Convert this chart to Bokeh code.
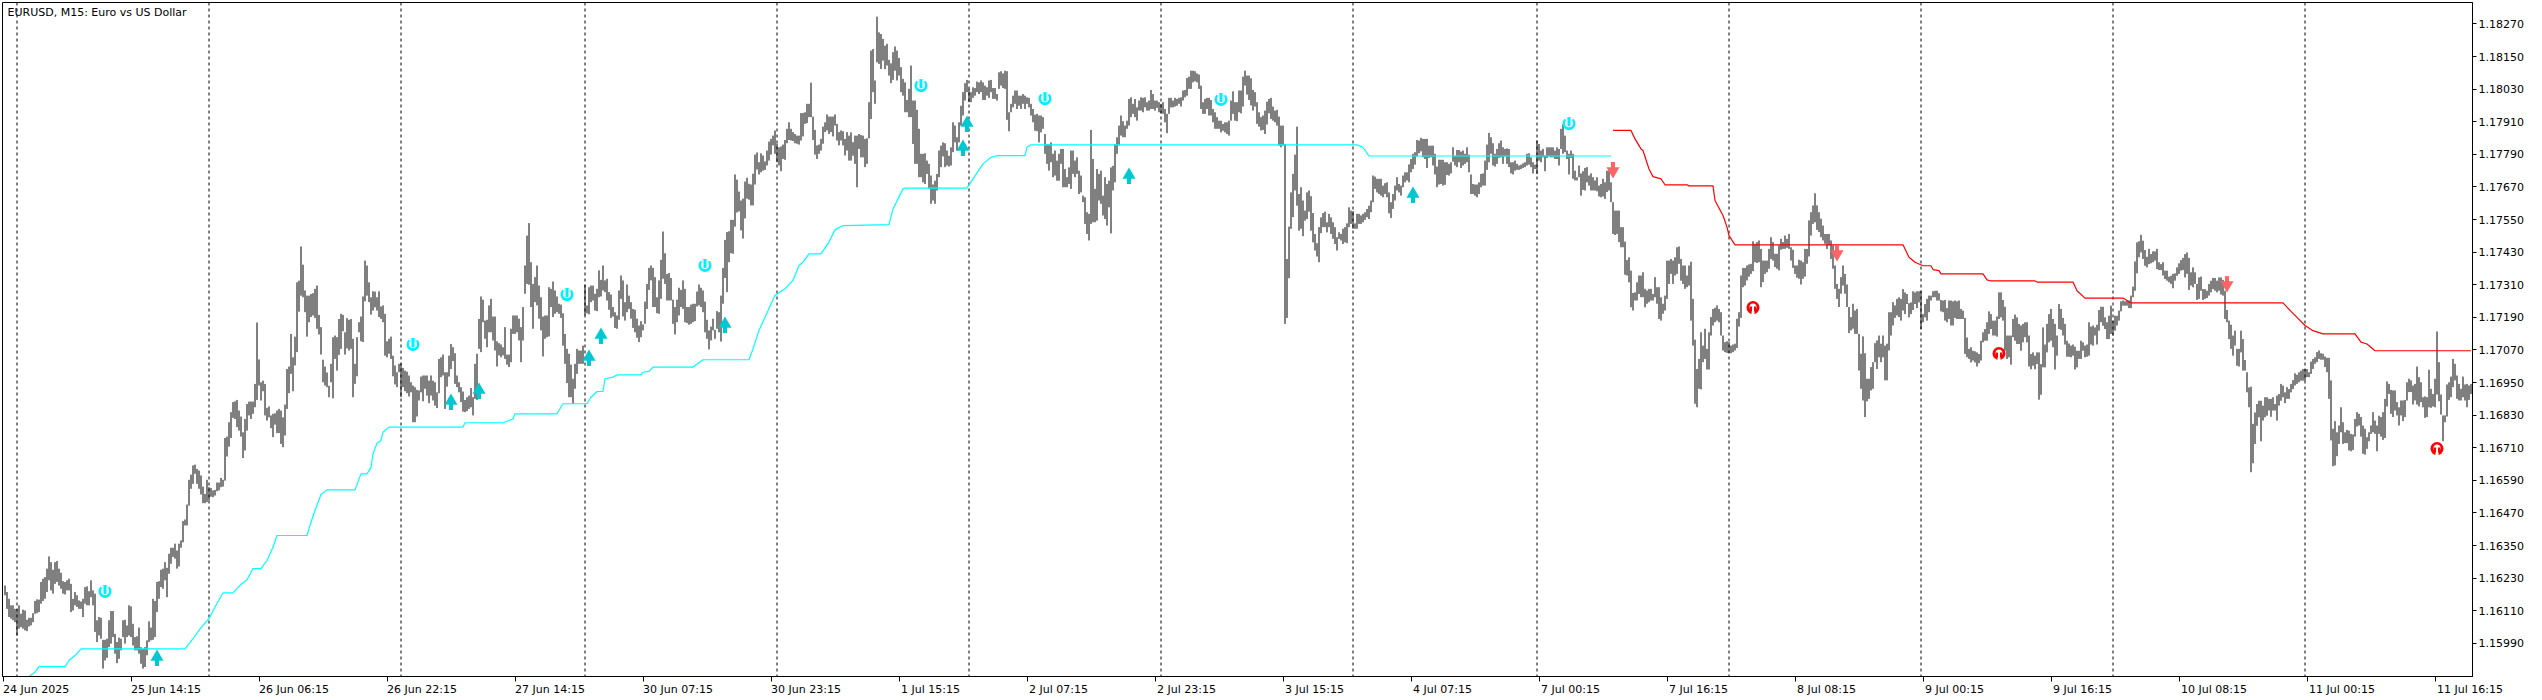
from bokeh.plotting import figure
from bokeh.models import FixedTicker, Label, NumeralTickFormatter, Span
from bokeh.embed import file_html
from bokeh.resources import INLINE

# Prices are in points above 1.15000; each list alternates bar high, bar low.
hl_24jun = [1203,1167,1179,1117,1154,1087,1130,1081,1130,1075,1117,1068]
hl_25jun = [1117,1019,1130,1044,1099,1050,1114,1044,1111,1038,1077,1035,1084,1052,1084,1056,1101,1068,1146,1099,1152,1101,1151,1105,1216,1136,1228,1146,1234,1154,1265,1179,1310,1222,1289,1185,1261,1173,1289,1209,1293,1216,1265,1203,1250,1191,1219,1173,1216,1170,1222,1185,1228,1185,1209,1105,1154,1111,1179,1130,1167,1124,1148,1117,1144,1117,1154,1087,1197,1136,1200,1130,1182,1130,1222,1160,1185,1130,1173,1032,1075,995,1087,1019,1084,1007,1003,897,1003,927,1007,937,1075,976,1109,989,1109,1013,1025,952,995,917,1011,933,1007,964,1075,1013,1077,989,1056,1013,1130,1019,1126,1013,1062,982,1013,964,1016,964,1048,952,976,915,970,897,976,903,1001,946,1071,995,1048,1001,1154,1003,1146,1013,1216,1105,1219,1154,1261,1197,1265,1191,1289,1222,1268,1160,1320,1246,1342,1283,1342,1308,1357,1302,1332,1265,1357,1273,1369,1342,1440,1362,1446,1424,1501,1424,1592,1497,1611,1559,1645,1577,1648,1614,1632,1577,1626,1559,1608,1538,1567,1506,1540,1506,1592,1510]
hl_26jun = [1565,1516,1562,1530,1553,1528,1555,1534,1582,1550,1582,1553,1599,1565,1592,1567,1746,1589,1751,1678,1804,1714,1841,1746,1878,1820,1881,1816,1886,1786,1847,1773,1825,1751,1767,1672,1816,1700,1871,1773,1880,1829,1880,1816,1880,1835,1945,1859,2171,1886,2035,1939,1951,1884,1957,1918,1945,1829,1857,1810,1862,1822,1829,1782,1835,1749,1837,1795,1847,1764,1853,1764,1847,1724,1822,1712,1869,1755,2000,1853,2009,1911,2129,1982,2043,1918,2119,2013,2319,2062,2325,2211,2451,2270,2384,2264,2289,2209,2270,2119,2270,2172,2276,2191,2279,2197,2295,2188,2307,2148,2199,2127,2154,2053,2034,1951,2009,1939,1987,1933,1938,1896,2019,1951,2117,1892,2123,2037,2117,1994,2184,2052,2203,2074,2199,2139,2135,2053,2187,2076,2181,2068,2184,2074,2111,1896,2019,1945,2117,1973,2172,2135,2193,2102,2267,2099,2399,2249,2381,2270,2319,2246,2264,2200,2286,2215,2285,2227,2264,2215,2286,2191,2230,2184,2234,2172,2203,2049,2102,2043,2111,2056,2119,2037,2049,1973,2013,1943,1988,1933,2019,1988]
hl_27jun = [2021,1896,2004,1933,1994,1918,1990,1911,1976,1899,1951,1914,1939,1804,1933,1804,1923,1825,1921,1884,1972,1914,1976,1881,1976,1927,1976,1902,1957,1874,1976,1902,1957,1884,1951,1865,1914,1856,2037,1911,2043,1970,2053,1976,1988,1853,1988,1935,2049,1972,2092,2000,2080,2029,2058,1945,1976,1933,1951,1914,1933,1878,1917,1843,1886,1841,1896,1845,1902,1853,1930,1859,1896,1829,2019,1890,2056,1886,2184,2074,2267,2062,2255,2172,2178,2111,2181,2080,2234,2135,2258,2135,2193,2105,2193,2068,2102,2009,2095,2050,2090,2043,2080,2050,2154,2037,2053,2016,2053,2007,2148,2025,2197,2129,2197,2129,2197,2135,2185,2105,2154,2025,2228,2105,2381,2277,2491,2313,2537,2310,2393,2228,2313,2148,2338,2246,2381,2234,2307,2185,2264,2142,2193,2046,2197,2111,2197,2117,2301,2120,2295,2228,2322,2191,2289,2203,2267,2209,2240,2203,2237,2188,2205,2086,2129,2019,2074,1948,2056,1896,2016,1896,1964,1872,2019,1927,2074,1982,2068,2019,2068,2019,2086,2019]
hl_30jun = [2310,2197,2234,2205,2301,2201,2307,2246,2307,2252,2277,2215,2295,2213,2363,2264,2328,2267,2381,2289,2326,2283,2332,2252,2283,2218,2274,2188,2228,2193,2209,2151,2197,2148,2289,2181,2344,2258,2326,2193,2246,2178,2311,2209,2270,2221,2246,2185,2221,2151,2218,2135,2185,2115,2160,2099,2176,2117,2164,2142,2248,2166,2313,2221,2372,2291,2381,2326,2372,2228,2338,2228,2264,2205,2326,2203,2402,2258,2506,2332,2426,2313,2350,2252,2353,2252,2335,2252,2255,2166,2228,2127,2255,2172,2299,2197,2291,2228,2326,2221,2295,2172,2228,2169,2228,2163,2237,2166,2240,2172,2240,2176,2285,2230,2311,2234,2299,2228,2289,2209,2248,2135,2181,2111,2142,2072,2156,2105,2185,2142,2144,2111,2213,2148,2209,2135,2270,2101,2372,2240,2475,2335,2504,2283,2507,2393,2549,2426,2549,2424,2716,2524,2697,2576,2653,2580,2620,2510,2627,2480,2690,2554,2704,2627,2682,2623,2679,2602,2719,2602,2789,2679,2797,2734,2761,2716,2794,2724,2786,2730,2764,2733,2804,2749,2837,2767,2847,2789,2859,2823,2878,2792]
hl_01jul = [2829,2761,2816,2749,2819,2728,2826,2773,2843,2770,2884,2831,2908,2843,2884,2841,2872,2839,2865,2831,2859,2829,2859,2826,2942,2841,2942,2856,2945,2902,2976,2905,2976,2927,3054,2927,2929,2843,2880,2789,2823,2773,2826,2792,2847,2804,2892,2829,2908,2872,2937,2878,2929,2865,2929,2872,2929,2856,2937,2896,2902,2841,2872,2823,2878,2841,2875,2823,2847,2786,2872,2804,2859,2767,2871,2767,2835,2785,2859,2755,2859,2669,2865,2810,2861,2779,2859,2779,2847,2743,2849,2755,2982,2849,3172,2920,3178,3019,3062,2976,3297,3129,3239,3123,3233,3104,3215,3135,3190,3104,3197,3117,3138,3080,3125,3052,3166,3064,3187,3098,3172,3062,3145,3080,3111,3019,3068,3006,3055,2945,2990,2945,3031,2927,3117,2927,2988,2828,2988,2755,2954,2755,2884,2706,2792,2706,2792,2687,2794,2681,2767,2718,2755,2663,2712,2608,2679,2620,2693,2608,2718,2657,2804,2706,2822,2743,2834,2782,2831,2743,2804,2749,2785,2745,2816,2749,2908,2798,2896,2834,2853,2804,2908,2834,2969,2896,3019,2933,3052,2988,3064,3019]
hl_02jul = [3031,2982,3019,2982,3037,2998,3034,3006,3058,3019,3055,3012,3062,3019,3055,2990,3043,2990,3037,3006,3062,2998,3064,3019,3034,2994,3034,2994,3012,2988,3092,3031,3096,3043,3088,3034,3098,3031,3096,2917,2945,2875,2976,2945,3006,2963,3025,2976,3025,2957,3006,2969,3006,2957,3012,2976,3006,2957,3000,2976,2998,2963,2976,2933,2957,2908,2936,2877,2939,2875,2933,2834,2933,2871,2927,2884,2865,2792,2828,2755,2828,2730,2834,2761,2792,2706,2804,2712,2767,2693,2792,2693,2810,2755,2810,2669,2736,2669,2706,2669,2742,2681,2804,2663,2804,2718,2767,2706,2779,2718,2730,2644,2712,2650,2638,2614,2632,2534,2577,2497,2571,2473,2880,2534,2773,2540,2663,2540,2736,2546,2718,2620,2730,2608,2638,2565,2706,2552,2681,2528,2693,2595,2742,2499,2748,2657,2828,2687,2853,2792,2896,2822,2933,2859,2912,2853,2896,2853,2914,2884,2994,2896,3000,2927,2976,2939,2994,2927,2963,2914,2988,2951,3000,2951,2998,2945,3000,2963,2982,2951,2988,2951,3027,2957,3012,2957,2988,2951,2988,2961,2982,2945]
hl_03jul = [2976,2941,2982,2939,2957,2908,2939,2868,2998,2939,2998,2963,2988,2963,2998,2966,2994,2969,2998,2976,3000,2966,3025,2988,3027,3000,3071,3006,3076,3031,3098,3031,3098,3055,3096,3059,3088,3055,3084,3031,3043,2957,2982,2939,2994,2939,2998,2957,2998,2933,2990,2933,2957,2908,2945,2884,2927,2884,2914,2884,2914,2871,2902,2877,2908,2871,2908,2865,2914,2859,2988,2914,3022,2939,2982,2914,2982,2912,3025,2945,3025,2941,3076,2966,3098,3043,3080,3010,3080,2990,3070,2970,3027,2951,3019,2966,2982,2902,2945,2892,2927,2878,2933,2880,2951,2865,2984,2900,2994,2941,2998,2920,2966,2914,2951,2908,2954,2896,2929,2822,2896,2816,2896,2822,2828,2166,2405,2188,2524,2334,2650,2516,2718,2559,2789,2657,2892,2601,2644,2509,2669,2516,2620,2489,2583,2546,2650,2552,2657,2579,2636,2509,2574,2466,2497,2436,2463,2414,2522,2393,2558,2500,2574,2522,2579,2522,2540,2503,2571,2522,2558,2497,2540,2479,2522,2460,2485,2436,2503,2479,2497,2473,2516,2460,2522,2466,2536,2463,2595,2522,2583,2534]
hl_04jul = [2581,2516,2536,2516,2571,2516,2571,2534,2565,2534,2571,2540,2577,2549,2589,2559,2601,2552,2620,2577,2712,2614,2708,2663,2700,2650,2700,2644,2700,2638,2675,2632,2684,2644,2687,2632,2650,2573,2614,2556,2644,2589,2675,2620,2706,2657,2681,2650,2675,2638,2712,2669,2724,2687,2724,2694,2753,2687,2773,2724,2792,2736,2798,2752,2843,2782,2841,2794,2851,2801,2847,2779,2847,2773,2847,2740,2822,2777,2822,2779,2822,2749,2792,2716,2745,2669,2770,2679,2770,2681,2770,2675,2761,2678,2761,2714,2755,2712,2761,2720,2816,2763,2785,2749,2806,2743,2806,2761,2800,2740,2804,2749,2792,2755,2816,2761,2789,2724,2716,2644,2681,2644,2679,2638,2679,2632,2687,2644,2718,2669,2720,2675,2767,2675,2826,2733,2869,2761,2853,2792,2831,2749,2792,2745,2810,2755,2831,2777,2841,2779,2816,2755,2810,2782,2812,2755,2810,2743,2761,2720,2761,2716,2767,2730,2755,2733,2749,2733,2752,2736,2757,2740,2761,2743,2792,2749,2794,2752,2779,2743,2761,2720,2752,2736]
hl_07jul = [2841,2718,2828,2767,2804,2761,2810,2779,2786,2728,2816,2777,2816,2782,2816,2779,2816,2779,2804,2773,2816,2773,2810,2749,2884,2810,2900,2792,2859,2798,2804,2773,2792,2716,2804,2777,2792,2700,2730,2694,2706,2694,2749,2706,2720,2638,2728,2659,2740,2657,2743,2687,2712,2675,2720,2657,2706,2657,2694,2657,2706,2654,2675,2635,2681,2632,2700,2635,2687,2626,2730,2651,2730,2657,2687,2614,2614,2497,2583,2493,2583,2497,2583,2467,2522,2448,2522,2448,2469,2347,2401,2344,2411,2319,2362,2227,2280,2215,2282,2252,2319,2252,2344,2276,2344,2264,2356,2264,2295,2227,2289,2240,2295,2246,2295,2252,2276,2252,2338,2264,2301,2240,2301,2184,2264,2178,2240,2203,2270,2215,2399,2258,2399,2313,2405,2350,2399,2313,2411,2344,2448,2350,2451,2387,2405,2325,2381,2313,2381,2295,2344,2301,2381,2307,2395,2178,2258,2086,2108,1872,2000,1859,2037,1927,2135,1925,2086,2025,2148,2037,2074,1998,2135,1998,2191,2123,2221,2160,2225,2172,2234,2178,2221,2172,2209,2123,2123,2068,2099,2062,2102,2059]
hl_08jul = [2099,2059,2086,2058,2090,2062,2093,2068,2185,2077,2209,2156,2344,2188,2372,2301,2372,2307,2381,2326,2385,2340,2387,2350,2470,2360,2461,2393,2467,2390,2473,2393,2442,2301,2399,2320,2399,2350,2399,2356,2442,2369,2485,2405,2467,2399,2424,2375,2424,2369,2455,2363,2479,2439,2467,2442,2491,2442,2479,2446,2497,2442,2448,2399,2439,2372,2381,2350,2381,2336,2402,2332,2399,2311,2393,2332,2442,2340,2442,2387,2547,2414,2577,2491,2602,2534,2647,2540,2602,2512,2577,2504,2553,2485,2528,2473,2497,2461,2497,2442,2497,2455,2473,2405,2455,2369,2381,2295,2313,2258,2295,2228,2338,2277,2381,2307,2350,2277,2311,2228,2228,2132,2191,2142,2240,2148,2215,2129,2221,2129,2129,1994,2056,1927,2120,1884,2058,1823,1964,1881,1964,1890,2007,1921,2025,1927,2095,2025,2105,2000,2123,2043,2093,2025,2123,2043,2086,1958,2093,1958,2209,2068,2209,2123,2246,2160,2234,2188,2258,2197,2264,2191,2258,2178,2294,2215,2282,2202,2276,2239,2242,2190,2245,2202,2286,2217,2282,2239,2286,2224,2286,2245]
hl_09jul = [2288,2147,2202,2172,2239,2190,2258,2178,2270,2209,2270,2252,2286,2264,2288,2264,2288,2252,2279,2252,2254,2212,2252,2209,2254,2178,2224,2172,2252,2184,2252,2160,2249,2160,2252,2188,2249,2184,2252,2184,2221,2184,2215,2184,2188,2055,2116,2043,2074,2037,2080,2024,2067,2031,2065,2024,2061,2009,2055,2021,2104,2031,2135,2098,2147,2104,2172,2104,2212,2129,2202,2147,2178,2123,2178,2123,2193,2119,2282,2184,2282,2190,2254,2178,2229,2067,2123,2037,2123,2043,2123,2016,2184,2117,2200,2104,2190,2092,2166,2092,2160,2067,2166,2098,2172,2117,2172,2098,2123,2009,2055,1999,2061,2012,2049,1999,2061,2018,2061,1887,2018,1905,2153,2006,2090,2006,2166,2061,2202,2098,2221,2104,2184,2080,2166,1998,2123,2049,2239,2147,2221,2144,2188,2123,2166,2090,2104,2045,2094,2045,2086,2043,2090,2049,2082,1998,2067,2006,2067,2037,2104,2037,2098,2067,2086,2043,2090,2045,2172,2049,2156,2090,2160,2086,2153,2123,2163,2090,2217,2141,2229,2172,2229,2159,2190,2147,2172,2110,2196,2110,2233,2129]
hl_10jul = [2178,2123,2196,2141,2196,2160,2215,2178,2249,2212,2252,2233,2249,2233,2252,2233,2252,2224,2270,2224,2303,2264,2396,2288,2466,2352,2470,2411,2494,2429,2472,2405,2438,2380,2413,2374,2442,2386,2423,2389,2433,2393,2433,2399,2442,2368,2393,2364,2386,2364,2393,2344,2362,2331,2362,2325,2340,2319,2343,2313,2350,2297,2352,2325,2374,2343,2389,2350,2401,2362,2409,2364,2423,2337,2429,2350,2409,2291,2356,2307,2374,2301,2356,2313,2313,2254,2337,2258,2340,2288,2294,2254,2294,2258,2288,2261,2313,2270,2325,2282,2335,2294,2335,2288,2325,2282,2337,2288,2337,2274,2328,2270,2288,2184,2217,2172,2178,2110,2163,2074,2123,2049,2141,2086,2074,2012,2074,2009,2141,2061,2110,1994,2033,1994,1988,1914,1932,1859,1935,1620,1798,1653,1840,1724,1871,1791,1883,1822,1883,1734,1865,1810,1896,1822,1896,1828,1890,1847,1890,1824,1896,1847,1871,1847,1902,1810,1908,1865,1945,1883,1939,1896,1914,1874,1933,1890,1926,1890,1945,1914,1959,1926,1984,1939,1979,1945,1988,1951,1994,1957,2000,1957]
hl_11jul = [2000,1957,2000,1970,1988,1970,2027,1982,2037,2000,2043,2019,2062,2025,2068,2037,2058,2034,2056,2034,2046,2007,2041,1988,2041,1890,1958,1737,1780,1642,1808,1645,1767,1679,1792,1724,1859,1767,1804,1724,1767,1727,1776,1727,1773,1700,1761,1697,1759,1702,1816,1751,1841,1788,1835,1792,1823,1751,1792,1688,1780,1685,1749,1706,1767,1734,1792,1761,1841,1767,1810,1761,1792,1697,1828,1761,1823,1751,1841,1739,1890,1746,1954,1862,1945,1908,1923,1835,1921,1823,1921,1847,1878,1829,1859,1792,1884,1829,1884,1808,1886,1823,1951,1884,1964,1915,1958,1915,1939,1869,1945,1884,2009,1869,1970,1862,1951,1878,1896,1859,1899,1820,1896,1823,1997,1859,1927,1857,1908,1862,1964,1859,2138,1906,2025,1881,1906,1832,1829,1734,1829,1804,1943,1825,1951,1886,1972,1896,2037,1933,2019,1958,1976,1890,1945,1884,1927,1884,1972,1896,1943,1884,1945,1859,1939,1886,1945,1908]

day_first_bar = [0, 6, 102, 198, 290, 386, 482, 578, 674, 766, 862, 958, 1054, 1150]
day_bars = [hl_24jun, hl_25jun, hl_26jun, hl_27jun, hl_30jun, hl_01jul, hl_02jul, hl_03jul, hl_04jul, hl_07jul, hl_08jul, hl_09jul, hl_10jul, hl_11jul]
separator_bars = day_first_bar[1:]

tick_bars = [-1, 63, 127, 191, 255, 319, 383, 447, 511, 575, 639, 703, 767, 831, 895, 959, 1023, 1087, 1151, 1215]
tick_labels = ["24 Jun 2025", "25 Jun 14:15", "26 Jun 06:15", "26 Jun 22:15", "27 Jun 14:15", "30 Jun 07:15", "30 Jun 23:15", "1 Jul 15:15", "2 Jul 07:15", "2 Jul 23:15", "3 Jul 15:15", "4 Jul 07:15", "7 Jul 00:15", "7 Jul 16:15", "8 Jul 08:15", "9 Jul 00:15", "9 Jul 16:15", "10 Jul 08:15", "11 Jul 00:15", "11 Jul 16:15"]
price_ticks = [1.15990, 1.16110, 1.16230, 1.16350, 1.16470, 1.16590, 1.16710, 1.16830, 1.16950, 1.17070, 1.17190, 1.17310, 1.17430, 1.17550, 1.17670, 1.17790, 1.17910, 1.18030, 1.18150, 1.18270]

cyan_bar = [12,15,17,30,32,36,38,90,94,98,102,105,109,114,118,121,124,128,131,134,136,151,153,155,158,161,175,178,181,183,184,186,188,189,192,229,230,249,254,255,276,279,291,293,296,299,300,304,306,318,319,322,324,344,349,372,374,377,385,390,394,397,399,402,408,412,415,419,442,444,449,450,481,484,489,493,496,510,511,513,676,679,682,803]
cyan_pts = [868,884,904,904,927,952,970,970,1007,1048,1081,1124,1176,1176,1207,1224,1265,1265,1295,1344,1387,1387,1436,1479,1538,1555,1555,1614,1614,1638,1687,1727,1737,1767,1786,1786,1802,1802,1816,1835,1835,1872,1872,1896,1917,1917,1964,1970,1978,1978,1988,1991,2007,2007,2034,2034,2074,2142,2271,2295,2326,2381,2393,2424,2424,2467,2512,2528,2531,2589,2663,2666,2666,2700,2755,2779,2785,2785,2816,2825,2825,2816,2784,2784]
red_bar = [804,813,815,818,819,822,824,828,830,841,842,854,855,859,861,862,865,949,952,955,959,963,964,967,968,989,991,993,1015,1016,1034,1036,1040,1059,1063,1139,1143,1146,1150,1154,1159,1175,1178,1181,1185,1233]
red_pts = [2878,2878,2847,2810,2804,2736,2708,2700,2678,2678,2674,2674,2620,2565,2522,2491,2457,2457,2411,2393,2380,2380,2366,2362,2350,2350,2328,2324,2324,2320,2320,2288,2261,2261,2243,2243,2212,2190,2160,2141,2129,2129,2099,2092,2067,2067]

up_bar = [76,223,237,292,298,360,479,481,562,704]
up_pts = [931,1873,1913,2035,2116,2156,2808,2896,2705,2635]
ring_cyan_bar = [50,204,281,350,458,520,608,782]
ring_cyan_pts = [1181,2090,2274,2381,3043,2995,2992,2903]
ring_red_bar = [874,997,1216]
ring_red_pts = [2226,2057,1707]
down_bar = [804,916,1111]
down_pts = [2738,2432,2318]

title_text = "EURUSD, M15:  Euro vs US Dollar"

def price(points):
    return 1.15 + points * 1e-5

# one screen pixel of the price scale, in points
PX = 3.68

bar_x, bar_hi, bar_lo = [], [], []
for first, flat in zip(day_first_bar, day_bars):
    for k in range(len(flat) // 2):
        bar_x.append(first + k)
        bar_hi.append(price(flat[2 * k]))
        bar_lo.append(price(flat[2 * k + 1]))

p = figure(width=2542, height=700, output_backend="svg", toolbar_location=None,
           x_range=(-1.25, 1233.75), y_range=(price(868), price(3349)),
           y_axis_location="right", min_border_left=2, min_border_right=70,
           min_border_top=2, min_border_bottom=24, background_fill_color="white",
           border_fill_color="white", tools="")
p.grid.visible = False
p.outline_line_color = "black"
p.outline_line_width = 1

FONT = "DejaVu Sans"
for ax in (p.xaxis[0], p.yaxis[0]):
    ax.axis_line_color = "black"
    ax.major_tick_in = 0
    ax.major_label_text_color = "black"
    ax.major_label_text_font = FONT
    ax.major_label_text_font_size = "11px"

# The visible x tick marks are the ticker's minor ticks; each label sits on a
# tickless major position so that its text starts at its tick mark.
CHAR_W = {" ": 3.5, "J": 3.2, ":": 3.7}
def label_bars(s):
    return sum(CHAR_W.get(c, 7.0) for c in s) / 2 / 2

label_at = [t + label_bars(s) for t, s in zip(tick_bars, tick_labels)]
xax = p.xaxis[0]
xax.ticker = FixedTicker(ticks=label_at, minor_ticks=tick_bars)
xax.major_label_overrides = dict(zip(label_at, tick_labels))
xax.major_tick_line_color = None
xax.major_tick_out = 5
xax.major_label_standoff = 1
xax.minor_tick_line_color = "black"
xax.minor_tick_in = 0
xax.minor_tick_out = 5

yax = p.yaxis[0]
yax.major_tick_line_color = "black"
yax.minor_tick_line_color = None
yax.major_tick_out = 4
yax.major_label_standoff = 2
yax.ticker = FixedTicker(ticks=price_ticks)
yax.formatter = NumeralTickFormatter(format="0.00000")

for b in separator_bars:
    p.add_layout(Span(location=b, dimension="height", line_color="black", line_width=1,
                      line_dash="3 3", level="underlay"))

p.segment(bar_x, bar_hi, bar_x, bar_lo, line_color="black", line_width=1)
p.line(cyan_bar, [price(v) for v in cyan_pts], line_color="#00FFFF", line_width=1.2)
p.line(red_bar, [price(v) for v in red_pts], line_color="#FF0000", line_width=1.2)

def shifted(points, px):
    return [price(v + px * PX) for v in points]

# up arrows
TEAL = "#00C8D2"
p.rect(up_bar, shifted(up_pts, -2.5), width=4, height=8, width_units="screen",
       height_units="screen", fill_color=TEAL, line_color=None)
p.scatter(up_bar, shifted(up_pts, 2.5), marker="triangle", size=13, fill_color=TEAL, line_color=None)
# down arrows
CORAL = "#FF6464"
p.rect(down_bar, shifted(down_pts, 2.5), width=4, height=8, width_units="screen",
       height_units="screen", fill_color=CORAL, line_color=None)
p.scatter(down_bar, shifted(down_pts, -2.5), marker="inverted_triangle", size=13, fill_color=CORAL, line_color=None)
# cyan rings
CYAN = "#00F0FF"
p.scatter(ring_cyan_bar, shifted(ring_cyan_pts, 0), marker="circle", size=13, fill_color=CYAN, line_color=None)
p.scatter(ring_cyan_bar, shifted(ring_cyan_pts, 0.5), marker="circle", size=8, fill_color="white", line_color=None)
p.rect(ring_cyan_bar, shifted(ring_cyan_pts, 5), width=8, height=2, width_units="screen",
       height_units="screen", fill_color="white", line_color=None)
p.rect(ring_cyan_bar, shifted(ring_cyan_pts, 2), width=3, height=9, width_units="screen",
       height_units="screen", fill_color=CYAN, line_color=None)
# red rings
p.scatter(ring_red_bar, shifted(ring_red_pts, 0), marker="circle", size=13, fill_color="#FF0000", line_color=None)
p.scatter(ring_red_bar, shifted(ring_red_pts, 0.5), marker="circle", size=7, fill_color="white", line_color=None)
p.rect(ring_red_bar, shifted(ring_red_pts, -3), width=3, height=7, width_units="screen",
       height_units="screen", fill_color="white", line_color=None)
p.rect([b - 1 for b in ring_red_bar], shifted(ring_red_pts, -1.5), width=2, height=5, width_units="screen",
       height_units="screen", fill_color="#FF0000", line_color=None)
p.rect([b + 1 for b in ring_red_bar], shifted(ring_red_pts, -1.5), width=2, height=5, width_units="screen",
       height_units="screen", fill_color="#FF0000", line_color=None)

p.add_layout(Label(x=5, y=664, x_units="screen", y_units="screen", text=title_text,
                   text_font=FONT, text_font_size="11px", text_color="black",
                   text_baseline="middle"))

open("out.html", "w").write(file_html(p, INLINE))
